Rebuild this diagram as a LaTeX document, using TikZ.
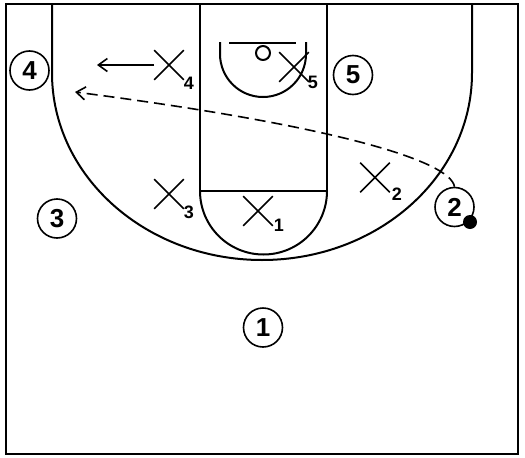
\documentclass[tikz,border=0pt]{standalone}
\usepackage{fontspec}
\setmainfont{Liberation Sans}
\usetikzlibrary{shapes.misc,arrows.meta}
\tikzset{
  court/.style={line width=2pt, line join=round},
  border/.style={line width=2.6pt},
  off/.style={circle, draw, line width=1.6pt, minimum size=39pt, inner sep=0pt,
    font=\fontsize{26}{26}\selectfont\bfseries},
  def/.style={cross out, draw, line width=1.6pt, minimum size=28pt, inner sep=0pt},
  sub/.style={inner sep=0pt, font=\fontsize{18}{18}\selectfont\bfseries},
  move/.style={line width=1.6pt, -{Straight Barb[length=9pt,width=13pt]}},
  dribble/.style={move, dash pattern=on 11pt off 6pt},
}
\begin{document}
\begin{tikzpicture}[x=1pt,y=-1pt]
\useasboundingbox (0,0) rectangle (525,458);
% court
\draw[border] (6,4) rectangle (518,454);
\draw[court] (52,4) -- (52,73) arc[start angle=180, end angle=0, x radius=210, y radius=187] -- (472,4);
\draw[court] (200,4) -- (200,191) -- (327,191) -- (327,4);
\draw[court] (200,191) arc[start angle=180, end angle=0, radius=63.5];
\draw[court] (229,43) -- (296,43);
\draw[court] (263,53) circle[radius=7];
\draw[court] (220,42) -- (220,54) arc[start angle=180, end angle=0, radius=43] -- (306,42);
% offense
\node[off] (o1) at (263,327.5) {1};
\node[off] (o2) at (454.5,207) {2};
\node[off] (o3) at (57,218.5) {3};
\node[off] (o4) at (29.5,70.5) {4};
\node[off] (o5) at (353,75) {5};
\fill (470,222) circle[radius=7];
% defense
\node[def] (x1) at (258,211) {};
\node[def] (x2) at (375,177.5) {};
\node[def] (x3) at (169,194) {};
\node[def] (x4) at (169,65) {};
\node[def] (x5) at (294,67) {};
\node[sub] (s1) at (279,225) {1};
\node[sub] (s2) at (397,194) {2};
\node[sub] (s3) at (189,212) {3};
\node[sub] (s4) at (189,83) {4};
\node[sub] (s5) at (313,82) {5};
% movements
\coordinate (t4) at (97,65);
\coordinate (t2) at (75,92);
\draw[move] (x4.west) -- (t4);
\draw[dribble] (o2.north) .. controls (450,160) and (330,125) .. (t2);
\end{tikzpicture}
\end{document}
